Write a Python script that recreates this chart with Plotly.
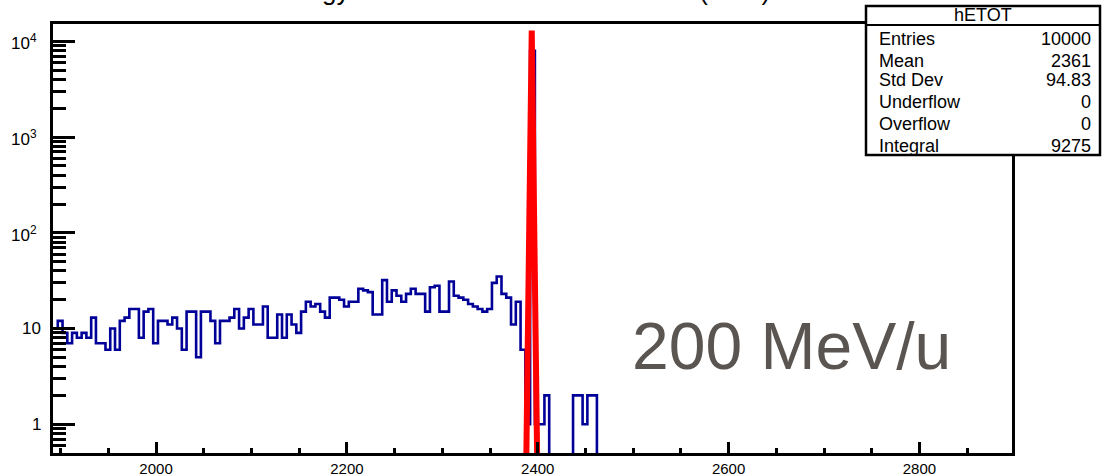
import numpy as np
import plotly.graph_objects as go

# ---------------- data ----------------
bin_low = 1892
bin_width = 5
counts = [
    10, 12, 9, 7, 9, 8, 9, 8, 13, 7,
    7, 6, 10, 6, 12, 13, 16, 16, 8, 15,
    16, 7, 12, 12, 11, 13, 10, 6, 15, 15,
    5, 15, 15, 12, 7, 12, 12, 13, 16, 10,
    13, 16, 11, 11, 17, 8, 8, 14, 8, 14,
    11, 9, 15, 19, 17, 18, 15, 13, 21, 21,
    20, 17, 19, 19, 26, 25, 24, 14, 14, 32,
    19, 25, 22, 19, 23, 26, 23, 23, 15, 27,
    28, 15, 15, 31, 22, 21, 20, 18, 17, 16,
    15, 16, 30, 35, 23, 21, 11, 19, 6, 1,
    8000, 1, 1, 2, 0, 0, 0, 0, 0, 2,
    2, 1, 2, 2, 0, 0,
]
# fitted curve as drawn (sampled points of the fit)
fit_x = [2381.7, 2387.7, 2393.7, 2399.7, 2405.7]
fit_y = [1e-9, 0.25, 13000, 0.25, 1e-9]

x_ticks = [2000, 2200, 2400, 2600, 2800]
y_tickvals = [1, 10, 100, 1000, 10000]
y_ticktext = ["1", "10", "10<sup>2</sup>", "10<sup>3</sup>", "10<sup>4</sup>"]

stats_title = "hETOT"
stats_labels = ["Entries", "Mean", "Std Dev", "Underflow", "Overflow", "Integral"]
stats_values = ["10000", "2361", "94.83", "0", "0", "9275"]

# ---------------- layout geometry (pixels) ----------------
W, H = 1102, 476
L, R, T, B = 53, 1012, 24, 453


def px(xp):
    return (xp - L) / (R - L)


def py(yp):
    return (B - yp) / (B - T)


edges = bin_low + bin_width * np.arange(len(counts) + 1)
yvals = [c if c > 0 else 1e-3 for c in counts]
yvals = yvals + [yvals[-1]]

fig = go.Figure()
fig.add_trace(go.Scatter(
    x=edges, y=yvals, mode="lines", line_shape="hv",
    line=dict(color="#000099", width=2.6), hoverinfo="skip", showlegend=False))
fig.add_trace(go.Scatter(
    x=fit_x, y=fit_y, mode="lines",
    line=dict(color="#ff0000", width=6), hoverinfo="skip", showlegend=False))

font = "Liberation Sans, Arial, Helvetica, sans-serif"

fig.update_layout(
    width=W, height=H,
    margin=dict(l=L, r=W - R, t=T, b=H - B, pad=0),
    paper_bgcolor="white", plot_bgcolor="white",
    showlegend=False,
    xaxis=dict(
        range=[1892, 2897], showgrid=False, zeroline=False, automargin=False,
        showline=True, linecolor="black", linewidth=3, mirror=True,
        ticks="inside", ticklen=11, tickwidth=2.5, tickcolor="black",
        tickvals=x_ticks, tickfont=dict(family=font, size=15, color="black"),
        minor=dict(ticks="inside", ticklen=5, tickwidth=2.5, tickcolor="black",
                   dtick=50, tick0=2000, showgrid=False),
    ),
    yaxis=dict(
        type="log", range=[np.log10(0.5), 4.182], showgrid=False, zeroline=False,
        automargin=False,
        showline=True, linecolor="black", linewidth=3, mirror=True,
        ticks="inside", ticklen=22, tickwidth=3, tickcolor="black",
        tickvals=y_tickvals, showticklabels=False,
        minor=dict(ticks="inside", ticklen=13, tickwidth=2.5, tickcolor="black",
                   dtick="D1", showgrid=False),
    ),
)

shapes = []
# stats box
shapes.append(dict(type="rect", xref="paper", yref="paper",
                   x0=px(866), x1=px(1100), y0=py(155), y1=py(6),
                   fillcolor="white", line=dict(color="black", width=2.5), layer="above"))
shapes.append(dict(type="line", xref="paper", yref="paper",
                   x0=px(866), x1=px(1100), y0=py(25), y1=py(25),
                   line=dict(color="black", width=2), layer="above"))
fig.update_layout(shapes=shapes)

ann = []
# y tick labels (ROOT style placement)
for v, t in zip(y_tickvals, y_ticktext):
    is_pow = "<sup>" in t
    ann.append(dict(xref="paper", yref="y", x=px(38.5 if is_pow else 42.5),
                    y=np.log10(v), yshift=(-1 if is_pow else 0), text=t,
                    showarrow=False, xanchor="right", yanchor="middle",
                    font=dict(family=font, size=17, color="black")))
ann.append(dict(xref="paper", yref="paper", x=px(983), y=py(15.5), text=stats_title,
                showarrow=False, xanchor="center", yanchor="middle",
                font=dict(family=font, size=18, color="black")))
row_y = [39, 61, 80, 102, 124, 146]
for lab, val, ry in zip(stats_labels, stats_values, row_y):
    ann.append(dict(xref="paper", yref="paper", x=px(877), y=py(ry), text=lab,
                    showarrow=False, xanchor="left", yanchor="middle",
                    font=dict(family=font, size=18, color="black")))
    ann.append(dict(xref="paper", yref="paper", x=px(1093), y=py(ry), text=val,
                    showarrow=False, xanchor="right", yanchor="middle",
                    font=dict(family=font, size=18, color="black")))
# big label
ann.append(dict(xref="paper", yref="paper", x=px(630), y=py(346), text="200 MeV/u",
                showarrow=False, xanchor="left", yanchor="middle",
                font=dict(family=font, size=66, color="#5a5551")))
# title (cut off at top)
ann.append(dict(xref="paper", yref="paper", x=px(487), y=py(8), text="Total Energy Released in Detector Module (MeV)",
                showarrow=False, xanchor="center", yanchor="bottom",
                font=dict(family=font, size=26, color="black")))
fig.update_layout(annotations=ann)

fig.write_html("out.html")
